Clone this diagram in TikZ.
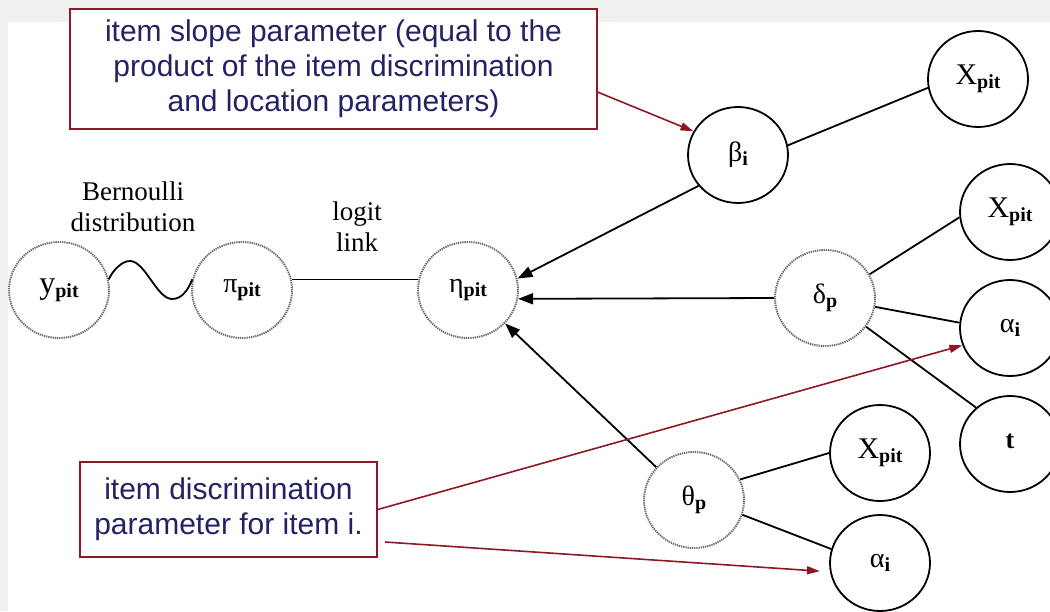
\documentclass[tikz,border=0pt]{standalone}
\usepackage{fontspec}
\setmainfont{Liberation Serif}
\newfontfamily\arialf{Liberation Sans}
\usetikzlibrary{arrows.meta,shapes.geometric}
\definecolor{boxred}{RGB}{140,25,35}
\definecolor{navy}{RGB}{35,35,100}
\definecolor{dotgray}{RGB}{105,105,105}
\definecolor{bgstrip}{RGB}{240,240,240}
\newcommand\nlab[3]{\raisebox{4pt}{{\fontsize{#1}{#1}\selectfont #2}\raisebox{-4pt}{\fontsize{20}{20}\selectfont\bfseries #3}}}
\begin{document}
\begin{tikzpicture}[x=1pt,y=-1pt,
  var/.style={ellipse, draw, line width=1.8pt, minimum width=100pt, minimum height=96pt, inner sep=0pt},
  lat/.style={ellipse, draw=dotgray, dash pattern=on 1.3pt off 0.9pt, line width=1.9pt, minimum width=100pt, minimum height=96pt, inner sep=0pt},
  conn/.style={line width=1.8pt},
  arr/.style={conn, -{Triangle[length=15pt,width=11pt]}},
  note/.style={draw=boxred, line width=1.5pt, fill=white, font=\arialf\fontsize{30}{35}\selectfont, text=navy, align=center, inner sep=0pt},
  redarr/.style={draw=boxred, line width=1.6pt, -{Triangle[length=13pt,width=8pt]}},
  lab/.style={font=\fontsize{27}{31}\selectfont, align=center}
]
\clip (0,0) rectangle (1050,611);
\fill[bgstrip] (0,0) rectangle (1050,611);
\fill[white] (8,22) rectangle (1050,611);

% nodes
\node[lat] (ypit) at (59,290) {\nlab{32}{y}{pit}};
\node[lat] (pi) at (242,290) {\nlab{28}{π}{pit}};
\node[lat] (eta) at (468,290) {\nlab{28}{η}{pit}};
\node[var] (beta) at (738,155) {\nlab{28}{β}{i}};
\node[var] (x1) at (978,79) {\nlab{30}{X}{pit}};
\node[lat] (delta) at (825,298) {\nlab{28}{δ}{p}};
\node[var] (x2) at (1010,212) {\nlab{30}{X}{pit}};
\node[var] (al1) at (1010,328) {\nlab{28}{α}{i}};
\node[var] (t) at (1010,444) {\raisebox{5pt}{\fontsize{26}{26}\selectfont\bfseries t}};
\node[lat] (theta) at (694,500) {\nlab{28}{θ}{p}};
\node[var] (x3) at (880,453) {\nlab{30}{X}{pit}};
\node[var] (al2) at (880,563) {\nlab{28}{α}{i}};

\node[lab] (bern) at (133,207) {Bernoulli\\distribution};
\node[lab] (logit) at (357,227) {logit\\link};

% connectors
\draw[conn] (ypit.12) .. controls (113,270) and (122,261) .. (130,261)
  .. controls (145,261) and (157,299) .. (172,299)
  .. controls (182,299) and (188,290) .. (pi.168);
\draw[conn] (pi.12) -- (eta.168);
\draw[conn] (beta.11) -- (x1.190);
\draw[arr] (beta.218) -- (eta.13);
\draw[arr] (delta.west) -- (eta.350);
\draw[arr] (theta.139) -- (eta.-42);
\draw[conn] (delta.28) -- (x2.186);
\draw[conn] (delta.-10) -- (al1.174);
\draw[conn] (delta.-35) -- (t.133);
\draw[conn] (theta.24) -- (x3.west);
\draw[conn] (theta.-17) -- (al2.164);

% notes
\node[note, minimum width=527pt, minimum height=120pt] (box1) at (333.5,69) {item slope parameter (equal to the\\product of the item discrimination\\and location parameters)};
\node[note, minimum width=297pt, minimum height=95pt] (box2) at (228.5,509.5) {item discrimination\\parameter for item i.};
\coordinate (c2) at (385,542);
\draw[redarr] (box1.-5.3) -- (beta.152);
\draw[redarr] (box2.east) -- (al1.200);
\draw[redarr, shorten >=10pt] (c2) -- (al2.190);
\end{tikzpicture}
\end{document}
